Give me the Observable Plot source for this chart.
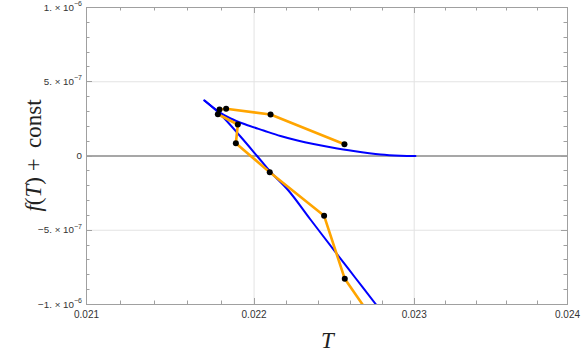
<!DOCTYPE html>
<html><head><meta charset="utf-8">
<script src="https://cdn.jsdelivr.net/npm/d3@7"></script>
<script src="https://cdn.jsdelivr.net/npm/@observablehq/plot@0.6"></script>
<style>body{margin:0;background:#fff;} svg{display:block;}</style>
</head><body><div id="chart"></div>
<script>
// Orange series (simulation points joined in order)
const orangeT = [0.022559, 0.022101, 0.021830, 0.021790, 0.021780, 0.021901, 0.021889, 0.022096, 0.022432, 0.022561, 0.022723];
const orangeF = [7.95e-8, 2.79e-7, 3.18e-7, 3.13e-7, 2.81e-7, 2.12e-7, 8.6e-8, -1.09e-7, -4.03e-7, -8.27e-7, -1.078e-6];
// Blue curve: upper branch (from cusp to the right) and lower branch (from cusp downwards)
const blueUpperT = [0.021699, 0.021784, 0.021857, 0.021948, 0.022058, 0.022162, 0.022267, 0.022366, 0.022472, 0.022616, 0.022786, 0.022913, 0.023008];
const blueUpperF = [3.737e-7, 2.997e-7, 2.525e-7, 2.121e-7, 1.717e-7, 1.347e-7, 1.044e-7, 8.08e-8, 5.93e-8, 3.37e-8, 1.01e-8, 2.0e-9, 0];
const blueLowerT = [0.021699, 0.021796, 0.021917, 0.022021, 0.022101, 0.022211, 0.022347, 0.022503, 0.022628, 0.022754, 0.022818];
const blueLowerF = [3.737e-7, 2.795e-7, 1.313e-7, -3.4e-9, -1.077e-7, -2.323e-7, -4.276e-7, -6.478e-7, -8.215e-7, -9.953e-7, -1.081e-6];
// Axes
const xTicks = [0.021, 0.022, 0.023, 0.024];
const xMinorTicks = [0.0212, 0.0214, 0.0216, 0.0218, 0.0222, 0.0224, 0.0226, 0.0228, 0.0232, 0.0234, 0.0236, 0.0238];
const xGrid = [0.022, 0.023];
const yTicks = [-1e-6, -5e-7, 0, 5e-7, 1e-6];
const yTickMantissa = ["\u22121. \u00d7 10", "\u22125. \u00d7 10", "0", "5. \u00d7 10", "1. \u00d7 10"];
const yTickExponent = ["\u22126", "\u22127", "", "\u22127", "\u22126"];
const yMinorTicks = [-9e-7, -8e-7, -7e-7, -6e-7, -4e-7, -3e-7, -2e-7, -1e-7, 1e-7, 2e-7, 3e-7, 4e-7, 6e-7, 7e-7, 8e-7, 9e-7];
const yGrid = [-5e-7, 5e-7];

const orange = orangeT.map((T, i) => ({T, f: orangeF[i]}));
const blue = [
  ...blueUpperT.map((T, i) => ({T, f: blueUpperF[i], branch: "upper"})),
  ...blueLowerT.map((T, i) => ({T, f: blueLowerF[i], branch: "lower"}))
];

const W = 581, H = 360, mL = 86, mR = 14, mT = 7, mB = 56;
const plot = Plot.plot({
  width: W, height: H,
  marginLeft: mL, marginRight: mR, marginTop: mT, marginBottom: mB,
  x: {type: "log", domain: [0.021, 0.024]},
  y: {domain: [-1e-6, 1e-6]},
  style: {background: "white", fontFamily: "'Liberation Sans', Arial, sans-serif"},
  marks: [
    Plot.ruleX(xGrid, {stroke: "#e3e3e3", strokeWidth: 1}),
    Plot.ruleY(yGrid, {stroke: "#e3e3e3", strokeWidth: 1}),
    Plot.ruleY([0], {stroke: "#8a8a8a", strokeWidth: 1.5}),
    Plot.line(blue, {x: "T", y: "f", z: "branch", stroke: "#0000ff", strokeWidth: 2, curve: "catmull-rom", clip: true}),
    Plot.line(orange, {x: "T", y: "f", stroke: "#ffa500", strokeWidth: 2.6, clip: true}),
    Plot.dot(orange, {x: "T", y: "f", r: 3, fill: "black", stroke: "none", clip: true}),
    Plot.frame({stroke: "#a0a0a0", strokeWidth: 1}),
    Plot.axisX({ticks: xTicks, tickSize: 0, tickPadding: 6, tickFormat: d3.format(".3f"), fontSize: 10, fill: "#333", label: null}),
    Plot.axisY({ticks: [], tickSize: 0, label: null})
  ]
});
document.getElementById("chart").appendChild(plot);

const sx = plot.scale("x"), sy = plot.scale("y");
const svg = d3.select(plot);
const x0 = mL, x1 = W - mR, y0 = mT, y1 = H - mB;
const tg = svg.append("g").attr("stroke", "#a0a0a0").attr("stroke-width", 1);
function xtick(v, len) {
  const x = Math.round(sx.apply(v)) + 0.5;
  tg.append("line").attr("x1", x).attr("x2", x).attr("y1", y1).attr("y2", y1 - len);
  tg.append("line").attr("x1", x).attr("x2", x).attr("y1", y0).attr("y2", y0 + len);
}
function ytick(v, len) {
  const y = Math.round(sy.apply(v)) + 0.5;
  tg.append("line").attr("x1", x0).attr("x2", x0 + len).attr("y1", y).attr("y2", y);
  tg.append("line").attr("x1", x1).attr("x2", x1 - len).attr("y1", y).attr("y2", y);
}
xTicks.forEach(v => xtick(v, 6));
xMinorTicks.forEach(v => xtick(v, 3.5));
yTicks.forEach(v => ytick(v, 6));
yMinorTicks.forEach(v => ytick(v, 3.5));

// y tick labels with superscript exponents
const lg = svg.append("g").attr("font-family", "'Liberation Sans', Arial, sans-serif").attr("fill", "#333");
yTicks.forEach((v, i) => {
  const y = sy.apply(v);
  const t = lg.append("text").attr("x", x0 - 4).attr("y", y + 3.5).attr("text-anchor", "end").attr("font-size", 9.8);
  t.append("tspan").text(yTickMantissa[i]);
  if (yTickExponent[i]) t.append("tspan").attr("dy", -4.5).attr("font-size", 7).text(yTickExponent[i]);
});

// axis labels
const serif = "'Liberation Serif', 'DejaVu Serif', serif";
const yl = svg.append("text").attr("transform", `translate(41,${(y0 + y1) / 2}) rotate(-90)`)
  .attr("text-anchor", "middle").attr("font-family", serif).attr("font-size", 23).attr("fill", "#222");
yl.append("tspan").attr("font-style", "italic").text("f");
yl.append("tspan").text("(");
yl.append("tspan").attr("font-style", "italic").text("T");
yl.append("tspan").text(") + \u2009const");
svg.append("text").attr("x", (x0 + x1) / 2 + 1).attr("y", 348).attr("text-anchor", "middle")
  .attr("font-family", serif).attr("font-size", 23).attr("font-style", "italic").attr("fill", "#222").text("T");
</script>
</body></html>
